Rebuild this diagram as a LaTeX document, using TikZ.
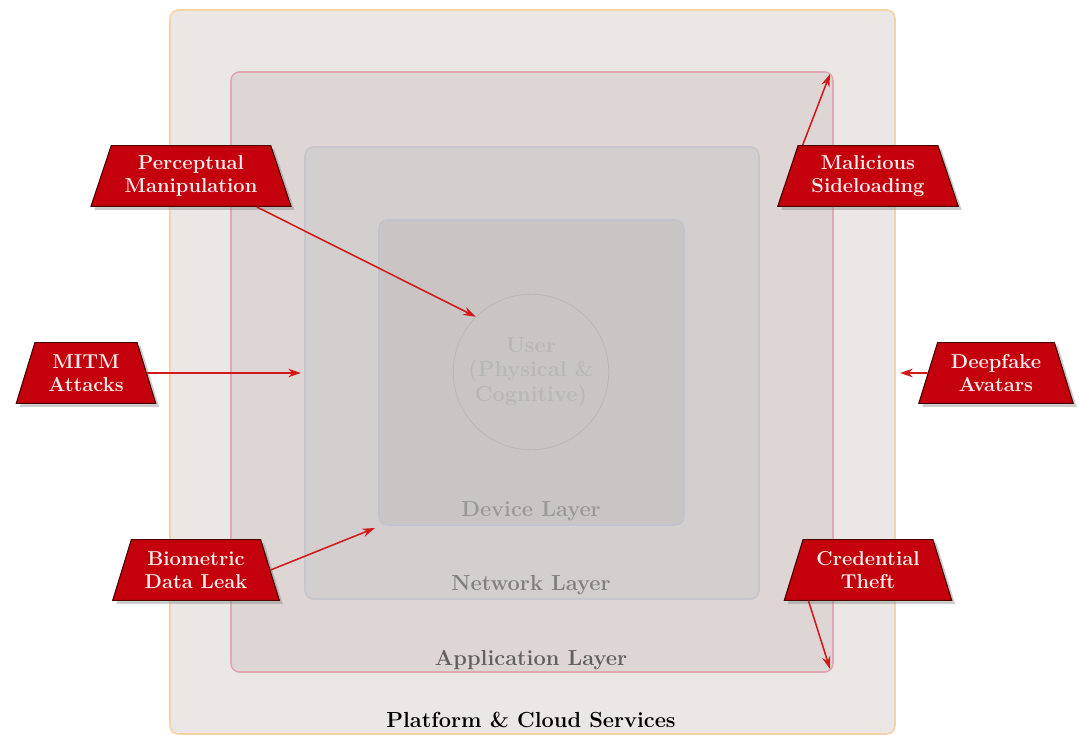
\documentclass[tikz,border=0pt]{standalone}
\usetikzlibrary{shapes.geometric,shadows,arrows.meta}
\definecolor{platfill}{HTML}{EBE7E4}
\definecolor{platdraw}{HTML}{F5D3A6}
\definecolor{appfill}{HTML}{DED6D5}
\definecolor{appdraw}{HTML}{E0A8B0}
\definecolor{netfill}{HTML}{D3CFCE}
\definecolor{netdraw}{HTML}{C6C6CC}
\definecolor{devfill}{HTML}{CAC5C5}
\definecolor{devdraw}{HTML}{C2C2D0}
\definecolor{threatfill}{HTML}{C4000C}
\definecolor{threatdraw}{HTML}{4A0000}
\definecolor{arrowred}{HTML}{D21A1A}
\definecolor{threattext}{HTML}{F8ECEC}
\tikzset{
  txt/.style={font=\fontsize{15.5}{17.5}\selectfont\bfseries},
  ttxt/.style={font=\fontsize{14.3}{16.3}\selectfont\bfseries},
  layer/.style={rounded corners=6pt, line width=1.1pt},
  threat/.style={trapezium, trapezium angle=68, trapezium stretches body,
    fill=threatfill, draw=threatdraw, line width=0.8pt, ttxt, text=threattext,
    align=center, minimum height=61*0.7087pt, inner xsep=9.5pt,
    drop shadow={shadow xshift=2.5pt, shadow yshift=-2.5pt, opacity=0.4}},
  attack/.style={-{Stealth[length=9pt,width=6pt]}, draw=arrowred, line width=1.1pt},
}
\begin{document}
\begin{tikzpicture}[x=0.025cm,y=-0.025cm]
\useasboundingbox (0,0) rectangle (1079,735);
% layers
\draw[layer, fill=platfill, draw=platdraw] (170,10) rectangle (895,734);
\draw[layer, fill=appfill, draw=appdraw] (231,72) rectangle (833,672);
\draw[layer, fill=netfill, draw=netdraw] (305,147) rectangle (759,599);
\draw[layer, fill=devfill, draw=devdraw] (379,220) rectangle (684,525);
\node[circle, draw=black!28, line width=0.6pt, minimum size=156*0.7087pt, inner sep=0pt, txt, text=black!28, align=center] (user) at (531,372) {User\\(Physical \&\\Cognitive)};
% layer labels
\node[txt, text=black!40] (devl) at (531,511) {Device Layer};
\node[txt, text=black!50] (netl) at (531,585) {Network Layer};
\node[txt, text=black!62] (appl) at (531,660) {Application Layer};
\node[txt, text=black] (platl) at (531,720) {Platform \& Cloud Services};
% anchor coordinates
\coordinate (netW) at (301,373);
\coordinate (devSW) at (375,528);
\coordinate (appNE) at (830,74);
\coordinate (appSE) at (830,669);
\coordinate (platE) at (900,373);
% threats
\node[threat] (perc) at (191,176) {Perceptual\\Manipulation};
\node[threat] (mitm) at (86,373) {MITM\\Attacks};
\node[threat] (bio) at (196,570) {Biometric\\Data Leak};
\node[threat] (mal) at (868,176) {Malicious\\Sideloading};
\node[threat] (deep) at (996,373) {Deepfake\\Avatars};
\node[threat] (cred) at (868,570) {Credential\\Theft};
% arrows
\draw[attack] (perc.bottom right corner) ++(-35,0) -- (user.135);
\draw[attack] (mitm.east) -- (netW);
\draw[attack] (bio.east) -- (devSW);
\draw[attack] (mal.top left corner) ++(5,0) -- (appNE);
\draw[attack] (deep.west) -- (platE);
\draw[attack] (cred.bottom left corner) ++(25,0) -- (appSE);
\end{tikzpicture}
\end{document}
